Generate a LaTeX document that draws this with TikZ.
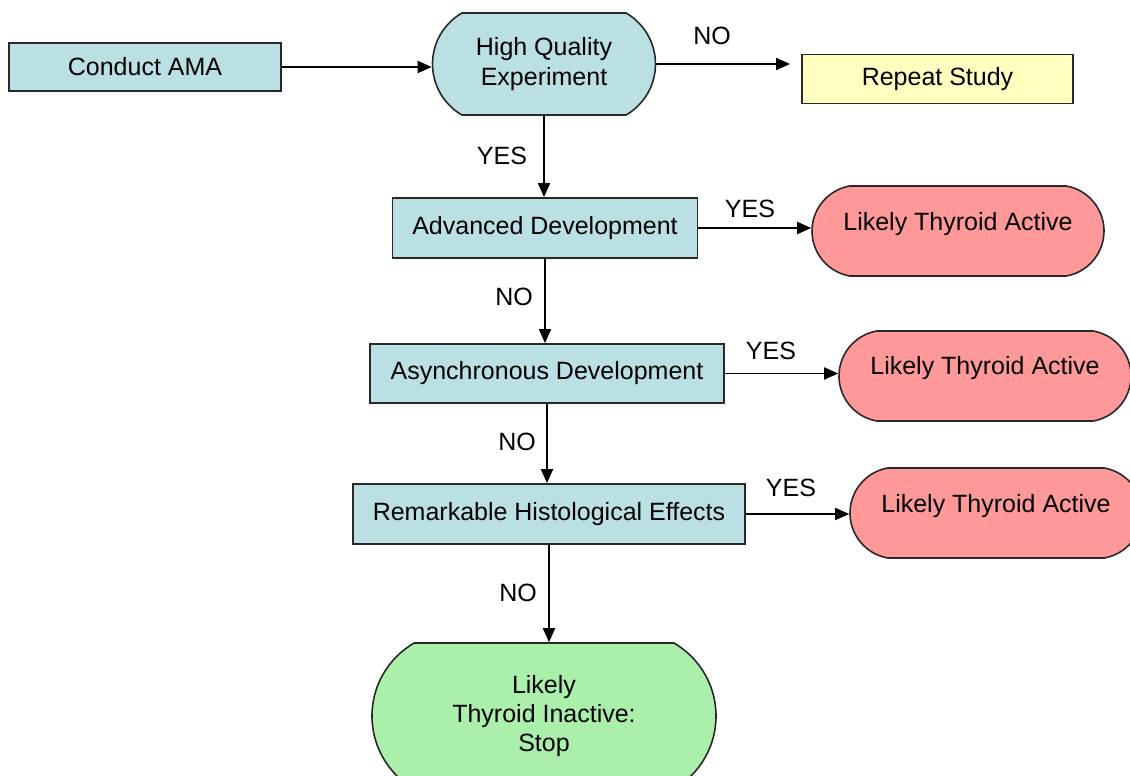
\documentclass[tikz,border=0pt]{standalone}
\usepackage{fontspec}
\setmainfont{Liberation Sans}
\usetikzlibrary{shapes.misc,arrows.meta}
\definecolor{tealfill}{RGB}{186,224,228}
\definecolor{yellowfill}{RGB}{255,255,192}
\definecolor{pinkfill}{RGB}{255,153,153}
\definecolor{greenfill}{RGB}{170,240,170}
\definecolor{edge}{RGB}{40,40,40}
\begin{document}
\begin{tikzpicture}[x=1pt,y=-1pt,
  every node/.style={font=\fontsize{25}{30}\selectfont, text=black},
  rbox/.style={draw=edge, line width=1.8pt, fill=tealfill, inner sep=0pt, align=center},
  ybox/.style={draw=edge, line width=1.8pt, fill=yellowfill, inner sep=0pt, align=center},
  pill/.style={rounded rectangle, draw=edge, line width=1.6pt, inner sep=0pt},
  arr/.style={-{Triangle[length=14pt,width=12pt]}, line width=1.8pt, draw=black},
  lbl/.style={inner sep=0pt}
]
\useasboundingbox (0,0) rectangle (1130,776);
\clip (0,0) rectangle (1130,776);

% nodes
\node[rbox, minimum width=272pt, minimum height=48pt] (ama) at (145,67) {Conduct AMA};
\node[pill, fill=tealfill, rounded rectangle arc length=120, minimum width=223pt, minimum height=102pt, align=center] (hqe) at (544,64) {High Quality\\Experiment};
\node[ybox, minimum width=271pt, minimum height=49pt] (rep) at (937.5,79) {Repeat Study};

\node[rbox, minimum width=305pt, minimum height=60pt] (adv) at (545,228) {Advanced Development};
\node[pill, fill=pinkfill, rounded rectangle arc length=160, minimum width=292pt, minimum height=90pt] (lta1) at (958,231) {};
\node[lbl] (lta1t) at (958,224) {Likely Thyroid Active};

\node[rbox, minimum width=354pt, minimum height=59pt] (asy) at (547,373.5) {Asynchronous Development};
\node[pill, fill=pinkfill, rounded rectangle arc length=160, minimum width=292pt, minimum height=90pt] (lta2) at (985,376) {};
\node[lbl] (lta2t) at (985,368) {Likely Thyroid Active};

\node[rbox, minimum width=392pt, minimum height=60pt] (rem) at (549,514) {Remarkable Histological Effects};
\node[pill, fill=pinkfill, rounded rectangle arc length=160, minimum width=292pt, minimum height=90pt] (lta3) at (996,513) {};
\node[lbl] (lta3t) at (996,506) {Likely Thyroid Active};

\node[pill, fill=greenfill, rounded rectangle arc length=120, minimum width=344pt, minimum height=146pt] (stop) at (544,716) {};
\node[lbl, align=center, font=\fontsize{25}{29}\selectfont] (stopt) at (544,716) {Likely\\Thyroid Inactive:\\Stop};

% labels
\node[lbl] (l1) at (712,36) {NO};
\node[lbl] (l2) at (502,156) {YES};
\node[lbl] (l3) at (750,209) {YES};
\node[lbl] (l4) at (514,297) {NO};
\node[lbl] (l5) at (771,351) {YES};
\node[lbl] (l6) at (517,442) {NO};
\node[lbl] (l7) at (791,488) {YES};
\node[lbl] (l8) at (518,593) {NO};

% connectors
\draw[arr] (ama.east) -- (ama.east -| hqe.west);
\draw[arr, shorten >=11pt] (hqe.east) -- (hqe.east -| rep.west);
\draw[arr] (hqe.south) -- (hqe.south |- adv.north);
\draw[arr] (adv.east) -- (adv.east -| lta1.west);
\draw[arr] (adv.south) -- (adv.south |- asy.north);
\draw[arr] (asy.east) -- (asy.east -| lta2.west);
\draw[arr] (asy.south) -- (asy.south |- rem.north);
\draw[arr] (rem.east) -- (rem.east -| lta3.west);
\draw[arr] (rem.south) -- (rem.south |- stop.north);
\end{tikzpicture}
\end{document}
